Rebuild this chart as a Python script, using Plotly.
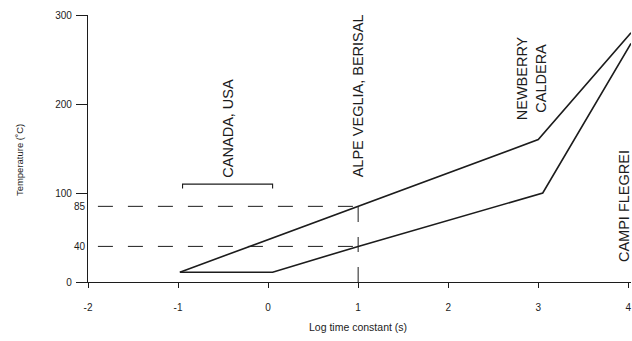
import plotly.graph_objects as go

# ---- data ----
upper_x = [-0.98, 1.0, 3.0, 4.03]
upper_y = [11, 85, 160, 280]
lower_x = [-0.98, 0.05, 1.0, 3.05, 4.03]
lower_y = [11, 11, 40, 100, 268]

bracket_x = [-0.95, -0.95, 0.05, 0.05]
bracket_y = [105, 110, 110, 105]

hdash_levels = [85, 40]
hdash_x = [-1.89, 1.0]
vdash_x = [1.0, 1.0]
vdash_y = [0, 95]

x_ticks = [-2, -1, 0, 1, 2, 3, 4]
x_ticktext = ["-2", "-1", "0", "1", "2", "3", "4"]
y_ticks = [0, 100, 200, 300]
y_extra_ticks = [40, 85]

site_labels = ["CANADA, USA", "ALPE VEGLIA, BERISAL", "NEWBERRY<br>CALDERA", "CAMPI FLEGREI"]
site_x = [-0.44, 1.0, 2.92, 3.96]
site_y = [115, 115, 229, 85]
site_anchor = ["bottom", "bottom", "middle", "middle"]

INK = "#1c1c1c"
FONT = "Liberation Sans"

fig = go.Figure()

line_style = dict(color=INK, width=1.6)
fig.add_trace(go.Scatter(x=upper_x, y=upper_y, mode="lines", line=line_style, hoverinfo="skip"))
fig.add_trace(go.Scatter(x=lower_x, y=lower_y, mode="lines", line=line_style, hoverinfo="skip"))
fig.add_trace(go.Scatter(x=bracket_x, y=bracket_y, mode="lines",
                         line=dict(color=INK, width=1.1), hoverinfo="skip"))
for lv in hdash_levels:
    fig.add_trace(go.Scatter(x=hdash_x, y=[lv, lv], mode="lines",
                             line=dict(color=INK, width=1.0, dash="15px,15px"), hoverinfo="skip"))
fig.add_trace(go.Scatter(x=vdash_x, y=vdash_y, mode="lines",
                         line=dict(color=INK, width=1.0, dash="15px,15px"), hoverinfo="skip"))

for txt, xx, yy, ya in zip(site_labels, site_x, site_y, site_anchor):
    fig.add_annotation(x=xx, y=yy, xref="x", yref="y", text=txt, showarrow=False,
                       textangle=-90, xanchor="center", yanchor=ya,
                       font=dict(family=FONT, size=14.5, color=INK))

# axis titles
fig.add_annotation(x=-0.125, y=0.457, xref="paper", yref="paper", text="Temperature (˚C)",
                   showarrow=False, textangle=-90, xanchor="center", yanchor="middle",
                   font=dict(family=FONT, size=9.5, color=INK))
fig.add_annotation(x=0.4975, y=-0.1685, xref="paper", yref="paper", text="Log time constant (s)",
                   showarrow=False, xanchor="center", yanchor="middle",
                   font=dict(family=FONT, size=10.5, color=INK))

fig.update_layout(
    width=632, height=341,
    margin=dict(l=88, r=1, t=15, b=59),
    plot_bgcolor="white", paper_bgcolor="white",
    showlegend=False,
    xaxis=dict(range=[-2, 4.03], showgrid=False, zeroline=False, showline=True,
               linecolor=INK, linewidth=1.2, ticks="outside", ticklen=5, tickwidth=1,
               tickcolor=INK, tickvals=x_ticks, ticktext=x_ticktext,
               ticklabelstandoff=11,
               tickfont=dict(family=FONT, size=10, color=INK)),
    yaxis=dict(range=[0, 300], showgrid=False, zeroline=False, showline=True,
               linecolor=INK, linewidth=1.2, ticks="outside", ticklen=11, tickwidth=1,
               tickcolor=INK, tickvals=y_ticks, ticklabelstandoff=2,
               tickfont=dict(family=FONT, size=10, color=INK)),
    yaxis2=dict(range=[0, 300], overlaying="y", side="left", showgrid=False, zeroline=False,
                showline=False, ticks="", tickvals=y_extra_ticks, ticklabelstandoff=2,
                tickfont=dict(family=FONT, size=10, color=INK)),
)
# dummy trace so yaxis2 is drawn
fig.add_trace(go.Scatter(x=[None], y=[None], yaxis="y2", hoverinfo="skip"))

fig.write_html("out.html")
